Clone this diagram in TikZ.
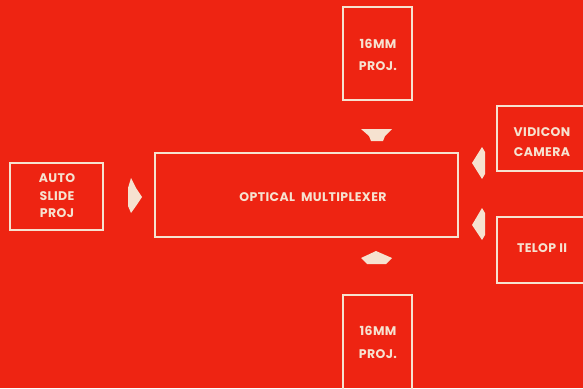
\documentclass[tikz,border=0pt]{standalone}
\usepackage{fontspec}
\setmainfont{Poppins}[LetterSpace=3]
\definecolor{bgred}{RGB}{238,36,18}
\definecolor{cream}{RGB}{246,226,208}
\begin{document}
\begin{tikzpicture}[x=1pt,y=-1pt,
  box/.style={draw=cream,line width=1.8pt,inner sep=0pt,rectangle},
  lbl/.style={text=cream,font=\fontsize{12.5}{19}\selectfont\bfseries,align=center,inner sep=0pt},
  blk/.style={fill=cream}]
\fill[bgred] (0,0) rectangle (583,388);
\useasboundingbox (0,0) rectangle (583,388);
\begin{scope}
\clip (0,0) rectangle (583,388);
% boxes
\node[box,minimum width=93pt,minimum height=67pt] (auto) at (56.5,196.5) {};
\node[box,minimum width=303pt,minimum height=84pt] (mux) at (306.5,195) {};
\node[box,minimum width=69pt,minimum height=93pt] (top) at (377.5,53.5) {};
\node[box,minimum width=69pt,minimum height=100pt] (bot) at (377.5,345) {};
\node[box,minimum width=103pt,minimum height=65pt] (vid) at (548.5,138.5) {};
\node[box,minimum width=103pt,minimum height=66pt] (tel) at (548.5,250) {};
% labels
\node[lbl,font=\fontsize{12.5}{17.5}\selectfont\bfseries] (autot) at (57,196) {AUTO\\SLIDE\\PROJ};
\node[lbl] (muxt) at (313,197) {OPTICAL\ \ MULTIPLEXER};
\node[lbl,font=\fontsize{12.5}{22}\selectfont\bfseries] (topt) at (378,55) {16MM\\PROJ.};
\node[lbl,font=\fontsize{12.5}{23}\selectfont\bfseries] (bott) at (378,342) {16MM\\PROJ.};
\node[lbl,font=\fontsize{12.5}{20}\selectfont\bfseries] (vidt) at (542,142) {VIDICON\\CAMERA};
\node[lbl] (telt) at (542,248) {TELOP II};
% block arrows
\fill[blk] (131,178) -- (136,188) -- (142,197) -- (136,206) -- (131,213) -- (128,206) -- (128,188) -- cycle;
\fill[blk] (361,129) -- (392,129) -- (385,136) -- (383,141) -- (371,141) -- (369,136) -- cycle;
\fill[blk] (376,251) -- (392,258) -- (386,264) -- (367,264) -- (361,258) -- cycle;
\fill[blk] (482,147) -- (485,152) -- (485,174) -- (482,179) -- (472,163) -- cycle;
\fill[blk] (482,208) -- (485,213) -- (485,235) -- (482,240) -- (472,225) -- cycle;
\end{scope}
\end{tikzpicture}
\end{document}
